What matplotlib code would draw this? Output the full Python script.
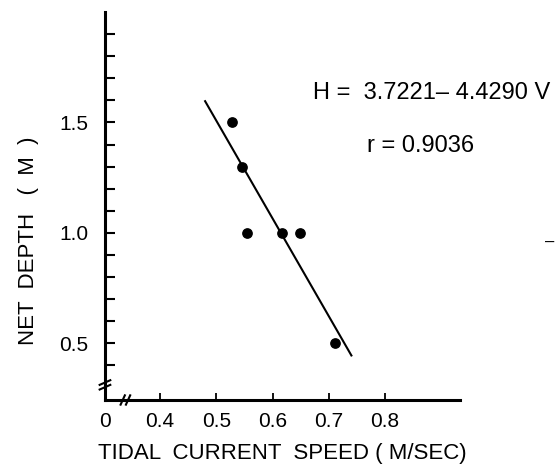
import matplotlib
matplotlib.use("Agg")
import matplotlib.pyplot as plt
import numpy as np

# Dados
velocidade = [0.528, 0.545, 0.555, 0.616, 0.649, 0.71]
profundidade = [1.5, 1.3, 1.0, 1.0, 1.0, 0.5]
a, b = 3.7221, -4.4290
v_reta = [0.48, 0.74]
x_ticks = [0.4, 0.5, 0.6, 0.7, 0.8]
y_ticks = [0.5, 1.0, 1.5]

plt.rcParams['font.family'] = ['Liberation Sans', 'DejaVu Sans']

fig = plt.figure(figsize=(5.56, 4.75), dpi=100)
ax = fig.add_axes([0.1888, 0.1579, 0.6385, 0.8168])

ax.scatter(velocidade, profundidade, s=45, color='black', zorder=3)
v = np.array(v_reta)
ax.plot(v, a + b * v, color='black', lw=1.5)

x0 = 0.302
ax.set_xlim(x0, 0.933)
ax.set_ylim(0.243, 2.0)

for s in ['top', 'right']:
    ax.spines[s].set_visible(False)
ax.spines['left'].set_linewidth(2.2)
ax.spines['bottom'].set_linewidth(2.2)

ax.set_xticks([x0] + x_ticks)
ax.set_xticklabels(['0'] + [f'{t:.1f}' for t in x_ticks], fontsize=15)
ax.set_yticks(y_ticks)
ax.set_yticklabels([f'{t:.1f}' for t in y_ticks], fontsize=15)
ax.set_yticks(np.arange(0.4, 1.95, 0.1), minor=True)
ax.tick_params(axis='y', which='both', direction='in', length=7, width=1.5, pad=12)
ax.tick_params(axis='x', which='major', direction='in', length=5, width=1.3, pad=9)
ax.xaxis.get_major_ticks()[0].tick1line.set_visible(False)

ax.set_xlabel('TIDAL  CURRENT  SPEED ( M/SEC)', fontsize=16, labelpad=8)
ax.set_ylabel('NET  DEPTH   (  M  )', fontsize=16)
ax.yaxis.set_label_coords(-0.185, 0.41)

fig.text(0.563, 0.805, 'H =  3.7221– 4.4290 V', fontsize=17,
         ha='left', va='center')
fig.text(0.66, 0.693, 'r = 0.9036', fontsize=17, ha='left', va='center')
fig.text(0.98, 0.49, '–', fontsize=12, ha='left', va='center')

# quebras dos eixos
kw = dict(transform=ax.transAxes, color='black', lw=1.5, clip_on=False)
for dy in (0.033, 0.045):
    ax.plot([-0.015, 0.015], [dy - 0.006, dy + 0.006], **kw)
for dx in (0.05, 0.065):
    ax.plot([dx - 0.006, dx + 0.006], [-0.012, 0.012], **kw)

fig.savefig('out.png', dpi=100)
